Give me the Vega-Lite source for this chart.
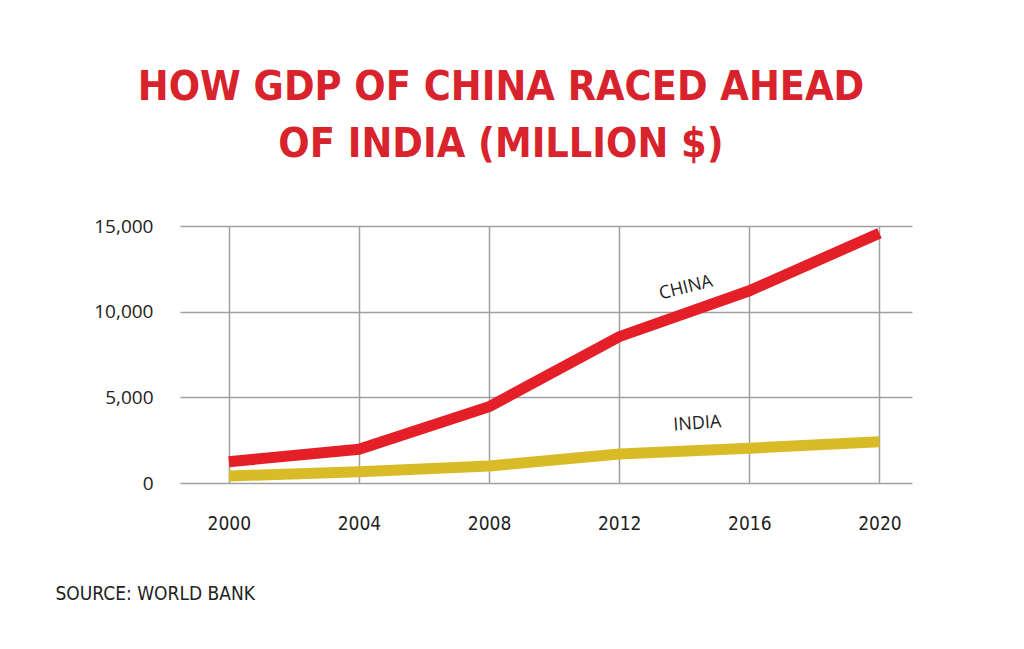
{
  "$schema": "https://vega.github.io/schema/vega-lite/v6.json",
  "width": 732,
  "height": 257,
  "autosize": {"type": "none"},
  "padding": {"left": 180, "top": 226, "right": 112, "bottom": 166},
  "background": "#ffffff",
  "config": {
    "view": {"stroke": null},
    "axis": {"gridColor": "#a0a0a0", "gridWidth": 1.5, "gridOpacity": 1, "domain": false, "ticks": false, "labelColor": "#222222"}
  },
  "title": {
    "text": ["HOW GDP OF CHINA RACED AHEAD", "OF INDIA (MILLION $)"],
    "font": "'DejaVu Sans Condensed', sans-serif",
    "fontSize": 41,
    "fontWeight": "bold",
    "color": "#d8232c",
    "lineHeight": 57,
    "anchor": "middle",
    "frame": "group",
    "dx": -45,
    "dy": 44,
    "baseline": "bottom",
    "offset": 48
  },
  "datasets": {
    "gdp": [
      {"year": 2000, "country": "China", "gdp": 1240},
      {"year": 2004, "country": "China", "gdp": 1970},
      {"year": 2008, "country": "China", "gdp": 4450},
      {"year": 2012, "country": "China", "gdp": 8540},
      {"year": 2016, "country": "China", "gdp": 11220},
      {"year": 2020, "country": "China", "gdp": 14580},
      {"year": 2000, "country": "India", "gdp": 410},
      {"year": 2004, "country": "India", "gdp": 660},
      {"year": 2008, "country": "India", "gdp": 990},
      {"year": 2012, "country": "India", "gdp": 1690},
      {"year": 2016, "country": "India", "gdp": 2030},
      {"year": 2020, "country": "India", "gdp": 2410}
    ],
    "labels": [
      {"year": 2014.05, "gdp": 11380, "label": "CHINA", "angle": -14},
      {"year": 2014.4, "gdp": 3450, "label": "INDIA", "angle": -4}
    ]
  },
  "encoding": {
    "x": {
      "field": "year",
      "type": "quantitative",
      "scale": {"domain": [1998.5, 2021], "nice": false, "zero": false},
      "axis": {
        "values": [2000, 2004, 2008, 2012, 2016, 2020],
        "format": "d",
        "labelFont": "'DejaVu Sans Condensed', sans-serif",
        "labelFontSize": 19,
        "labelPadding": 31,
        "title": "SOURCE: WORLD BANK",
        "titleFont": "'DejaVu Sans Condensed', sans-serif",
        "titleFontSize": 19,
        "titleFontWeight": "normal",
        "titleColor": "#222222",
        "titleAlign": "left",
        "titleAnchor": "start",
        "titleBaseline": "alphabetic",
        "titleX": -125,
        "titleY": 116
      }
    },
    "y": {
      "field": "gdp",
      "type": "quantitative",
      "scale": {"domain": [0, 15000], "nice": false},
      "axis": {
        "values": [0, 5000, 10000, 15000],
        "format": ",d",
        "labelFont": "Open Sans",
        "labelFontSize": 19,
        "labelPadding": 27,
        "title": null
      }
    }
  },
  "layer": [
    {
      "data": {"name": "gdp"},
      "mark": {"type": "line", "strokeWidth": 11, "strokeCap": "butt", "strokeJoin": "miter"},
      "encoding": {
        "color": {
          "field": "country",
          "type": "nominal",
          "scale": {"domain": ["India", "China"], "range": ["#d9bb27", "#e41f27"]},
          "legend": null
        },
        "order": {"field": "year", "type": "quantitative"}
      }
    },
    {
      "data": {"name": "labels"},
      "mark": {"type": "text", "font": "Open Sans", "fontSize": 18, "color": "#222222", "align": "center", "baseline": "middle"},
      "encoding": {
        "text": {"field": "label"},
        "angle": {"field": "angle", "type": "quantitative", "scale": null}
      }
    }
  ]
}
